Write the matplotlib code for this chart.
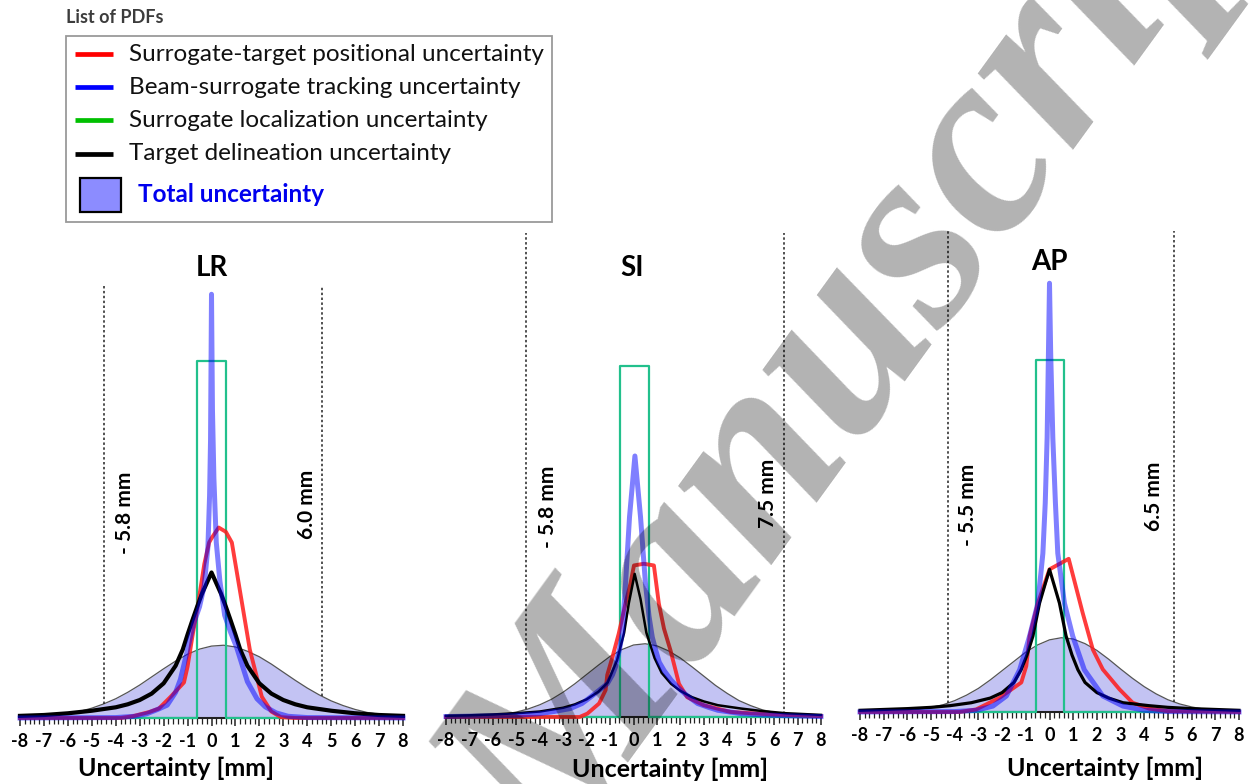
import numpy as np
import matplotlib
matplotlib.use("Agg")
import matplotlib.pyplot as plt
from matplotlib.patches import Rectangle
from matplotlib.ticker import MultipleLocator

plt.rcParams['font.family'] = ['Lato', 'DejaVu Sans']
plt.rcParams['axes.unicode_minus'] = False

W, H = 1250, 784

# ---------------- data ----------------
x_total = np.arange(-8, 8.5, 0.5)

lr_total = [.0013, .0023, .0040, .0065, .0102, .0156, .023, .033, .045, .060, .077,
            .096, .115, .133, .149, .161, .168, .170, .166, .156, .143, .126, .107,
            .088, .070, .054, .040, .029, .020, .013, .0086, .0054, .0032]
si_total = [.0003, .0006, .0011, .0022, .0040, .0070, .0118, .019, .029, .042, .059,
            .079, .101, .123, .144, .160, .171, .174, .169, .157, .140, .119, .097,
            .075, .056, .039, .027, .017, .011, .0064, .0036, .0019, .001]
ap_total = [.0002, .0005, .0010, .0019, .0036, .0064, .011, .017, .027, .040, .056,
            .076, .098, .120, .142, .159, .171, .176, .173, .162, .146, .125, .102,
            .080, .060, .043, .029, .019, .012, .007, .004, .0022, .0011]

# LR
lr_blue_x = [-8, -4, -3.2, -2.7, -2.25, -1.85, -1.5, -1.3, -1.0, -0.75, -0.5, -0.3, -0.15,
             -0.08, -0.04, 0, 0.04, 0.1, 0.2, 0.35, 0.55, 0.8, 1.05, 1.5, 1.9, 2.25, 2.7,
             3.2, 4, 8]
lr_blue_y = [0, .001, .004, .010, .020, .030, .060, .090, .160, .220, .260, .310, .400,
             .520, .650, .990, .720, .560, .410, .320, .240, .200, .165, .085, .045, .026,
             .012, .004, .001, 0]
lr_red_x = [-8, -3.8, -3.3, -2.6, -2.2, -1.7, -1.15, -1.0, -0.8, -0.55, -0.3, -0.1, 0.0,
            0.3, 0.6, 0.85, 1.6, 2.1, 2.5, 2.9, 3.5, 8]
lr_red_y = [0, 0, .004, .014, .022, .050, .083, .120, .190, .270, .360, .410, .420,
            .445, .435, .410, .160, .050, .015, .002, 0, 0]
lr_black_x = [-8, -7, -6, -5, -4, -3.5, -3, -2.5, -2, -1.5, -1.2, -1, -0.8, -0.6, -0.4,
              -0.2, 0, 0.2, 0.4, 0.6, 0.8, 1, 1.2, 1.5, 2, 2.5, 3, 3.5, 4, 5, 6, 7, 8]
lr_black_y = [.005, .007, .011, .017, .025, .032, .042, .057, .081, .122, .160, .195,
              .228, .260, .290, .315, .340, .315, .290, .260, .228, .195, .160, .122,
              .081, .057, .042, .032, .025, .017, .011, .007, .005]
lr_green = [-0.6, 0.62, 0.833]
lr_dashes = [-4.5, 4.63]
lr_dash_text = ['- 5.8 mm', '6.0 mm']

# SI
si_blue_x = [-8, -7, -6, -5, -4, -3.4, -2.7, -2.2, -1.84, -1.5, -1.12, -0.9, -0.77, -0.6,
             -0.48, -0.34, -0.17, 0.06, 0.3, 0.51, 0.66, 0.8, 0.95, 1.1, 1.31, 1.6, 1.88,
             2.3, 2.74, 3.2, 3.6, 4.6, 5.5, 6.5, 8]
si_blue_y = [.001, .002, .003, .004, .008, .013, .020, .032, .047, .062, .079, .100,
             .119, .160, .198, .317, .475, .620, .475, .317, .240, .190, .158, .130,
             .110, .088, .071, .050, .032, .023, .016, .008, .005, .003, .001]
si_red_x = [-8, -2.3, -1.97, -1.47, -1.19, -1.12, -0.9, -0.63, -0.34, -0.13, 0.02, 0.44,
            0.87, 1.08, 1.3, 1.58, 1.94, 2.29, 3.0, 4.14, 5, 6, 7, 8]
si_red_y = [0, 0, .008, .032, .064, .100, .142, .198, .270, .317, .360, .364, .360,
            .270, .210, .158, .079, .047, .028, .012, .009, .006, .004, .002]
si_black_x = [-8, -7, -6, -5, -4, -3, -2.5, -2, -1.5, -1.1, -0.7, -0.4, -0.2, 0.05, 0.3,
              0.55, 0.9, 1.2, 1.6, 2, 2.5, 3, 3.6, 4.6, 5.5, 6.5, 8]
si_black_y = [.003, .004, .006, .009, .013, .022, .030, .042, .060, .082, .135, .200,
              .270, .340, .280, .200, .140, .105, .079, .062, .047, .037, .028, .020,
              .014, .009, .005]
si_green = [-0.56, 0.65, 0.833]
si_dashes = [-4.58, 6.42]
si_dash_text = ['- 5.8 mm', '7.5 mm']

# AP
ap_blue_x = [-8, -4, -3.1, -2.39, -1.82, -1.26, -0.84, -0.49, -0.28, -0.18, -0.1, -0.05,
             0, 0.05, 0.14, 0.25, 0.35, 0.63, 0.98, 1.47, 2.25, 3.1, 4, 5, 8]
ap_blue_y = [0, .001, .004, .014, .038, .100, .180, .258, .376, .495, .650, .830, 1.016,
             .850, .650, .495, .376, .258, .180, .100, .038, .014, .004, .001, 0]
ap_red_x = [-8, -3.8, -3.1, -2.1, -1.19, -0.98, -0.84, -0.49, 0, 0.81, 1.4, 1.83, 2.25,
            2.95, 3.51, 4.21, 5, 8]
ap_red_y = [0, 0, .006, .034, .070, .109, .180, .258, .338, .363, .235, .148, .101,
            .054, .022, .008, .002, 0]
ap_black_x = [-8, -7, -6, -5, -4.2, -3.3, -2.5, -2, -1.5, -1.2, -0.95, -0.7, -0.42, -0.2,
              0, 0.2, 0.42, 0.7, 0.95, 1.2, 1.5, 2, 2.5, 3.1, 4.2, 5, 6, 7, 8]
ap_black_y = [.004, .006, .008, .011, .015, .022, .033, .046, .070, .100, .135, .180,
              .258, .300, .338, .300, .258, .180, .135, .100, .070, .046, .033, .022,
              .015, .011, .008, .006, .004]
ap_green = [-0.59, 0.63, 0.833]
ap_dashes = [-4.29, 5.26]
ap_dash_text = ['- 5.5 mm', '6.5 mm']

legend_labels = ['Surrogate-target positional uncertainty',
                 'Beam-surrogate tracking uncertainty',
                 'Surrogate localization uncertainty',
                 'Target delineation uncertainty']
legend_colors = ['#ff0000', '#0000ff', '#00c000', '#000000']

# ---------------- layout (pixels) ----------------
panels = [
    dict(name='LR', left=20, right=403, base=718, ppu=428, total=lr_total,
         blue=(lr_blue_x, lr_blue_y), red=(lr_red_x, lr_red_y), black=(lr_black_x, lr_black_y),
         green=lr_green, dashes=lr_dashes, dash_top=1.01, dash_text=lr_dash_text,
         text_pos=[(-3.61, 0.48), (3.98, 0.50)], title_xy=(212, 268),
         xlabel_xy=(176, 768), black_lw=3.0),
    dict(name='SI', left=446, right=821, base=717, ppu=421, total=si_total,
         blue=(si_blue_x, si_blue_y), red=(si_red_x, si_red_y), black=(si_black_x, si_black_y),
         green=si_green, dashes=si_dashes, dash_top=1.15, dash_text=si_dash_text,
         text_pos=[(-3.64, 0.50), (5.73, 0.53)], title_xy=(632, 268),
         xlabel_xy=(670, 769), black_lw=1.8),
    dict(name='AP', left=860, right=1239, base=712, ppu=422, total=ap_total,
         blue=(ap_blue_x, ap_blue_y), red=(ap_red_x, ap_red_y), black=(ap_black_x, ap_black_y),
         green=ap_green, dashes=ap_dashes, dash_top=1.14, dash_text=ap_dash_text,
         text_pos=[(-3.45, 0.49), (4.42, 0.51)], title_xy=(1049, 262),
         xlabel_xy=(1105, 768), black_lw=2.3),
]

fig = plt.figure(figsize=(W / 100, H / 100), dpi=100)
top_px = 228

for p in panels:
    ax = fig.add_axes([p['left'] / W, 1 - p['base'] / H,
                       (p['right'] - p['left']) / W, (p['base'] - top_px) / H])
    ax.set_xlim(-8, 8)
    ax.set_ylim(0, (p['base'] - top_px) / p['ppu'])
    ax.patch.set_visible(False)
    for s in ['top', 'left', 'right']:
        ax.spines[s].set_visible(False)
    ax.spines['bottom'].set_linewidth(1.5)
    ax.spines['bottom'].set_color('#222222')
    ax.set_yticks([])
    ax.xaxis.set_major_locator(MultipleLocator(1))
    ax.xaxis.set_minor_locator(MultipleLocator(0.2))
    ax.tick_params(which='major', length=6, width=1.1, color='#222222', pad=5)
    ax.tick_params(which='minor', length=4, width=0.9, color='#222222')
    ax.set_xticks(range(-8, 9))
    ax.set_xticklabels([str(i) for i in range(-8, 9)], fontsize=13, fontweight='bold')

    tot = np.array(p['total'])
    ax.fill_between(x_total, 0, tot, color='#c3c3f3', lw=0, zorder=1)
    ax.plot(x_total, tot, color='#555555', lw=0.9, zorder=2)

    # dotted reference lines
    for xd, txt, (tx, ty) in zip(p['dashes'], p['dash_text'], p['text_pos']):
        ybot = np.interp(xd, x_total, tot)
        ax.plot([xd, xd], [ybot, p['dash_top']], color='#222222', lw=1.1,
                ls=(0, (1.6, 1.6)), zorder=2, clip_on=False)
        ax.text(tx, ty, txt, rotation=90, ha='center', va='center',
                fontsize=15, fontweight='bold', color='black')

    lo, hi, gh = p['green']
    ax.plot([-8, lo, lo, hi, hi, 8], [0, 0, gh, gh, 0, 0], color='#22c08c',
            lw=1.6, zorder=3, clip_on=False)
    ax.plot(*p['red'], color='#ff1a1a', alpha=0.85, lw=2.8, zorder=4, clip_on=False)
    ax.plot(*p['black'], color='black', lw=p['black_lw'], zorder=5, clip_on=False)
    ax.plot(*p['blue'], color='#0000ff', alpha=0.5, lw=3.6, zorder=6, clip_on=False)

# overlay in pixel coordinates for titles, labels, legend and watermark
ov = fig.add_axes([0, 0, 1, 1], zorder=10)
ov.set_xlim(0, W)
ov.set_ylim(H, 0)
ov.axis('off')

for p in panels:
    ov.text(*p['title_xy'], p['name'], ha='center', va='center', fontsize=20, fontweight='bold')
    ov.text(*p['xlabel_xy'], 'Uncertainty [mm]', ha='center', va='center',
            fontsize=18, fontweight='bold')

# legend
ov.text(66, 17, 'List of PDFs', ha='left', va='center', fontsize=13, fontweight='bold',
        color='#3c3c3c')
ov.add_patch(Rectangle((66, 36), 486, 186, fill=False, ec='#9a9a9a', lw=1.3))
for i, (lab, col) in enumerate(zip(legend_labels, legend_colors)):
    yy = 54 + i * 33.2
    ov.plot([75, 113], [yy, yy], color=col, lw=3.4, solid_capstyle='butt')
    ov.text(129, yy, lab, ha='left', va='center', fontsize=17.5, color='#111111')
ov.add_patch(Rectangle((80, 178), 41, 34, fc='#8c8cff', ec='black', lw=1.6))
ov.text(138, 194, 'Total uncertainty', ha='left', va='center', fontsize=17.5,
        fontweight='bold', color='#0000ee')

# watermark
ov.text(555, 868, 'Manuscript', rotation=54, rotation_mode='anchor', ha='left',
        va='baseline', fontsize=190, family=['Liberation Serif', 'DejaVu Serif'],
        style='italic', fontweight='bold', color='black', alpha=0.3)

fig.savefig('out.png', dpi=100)
